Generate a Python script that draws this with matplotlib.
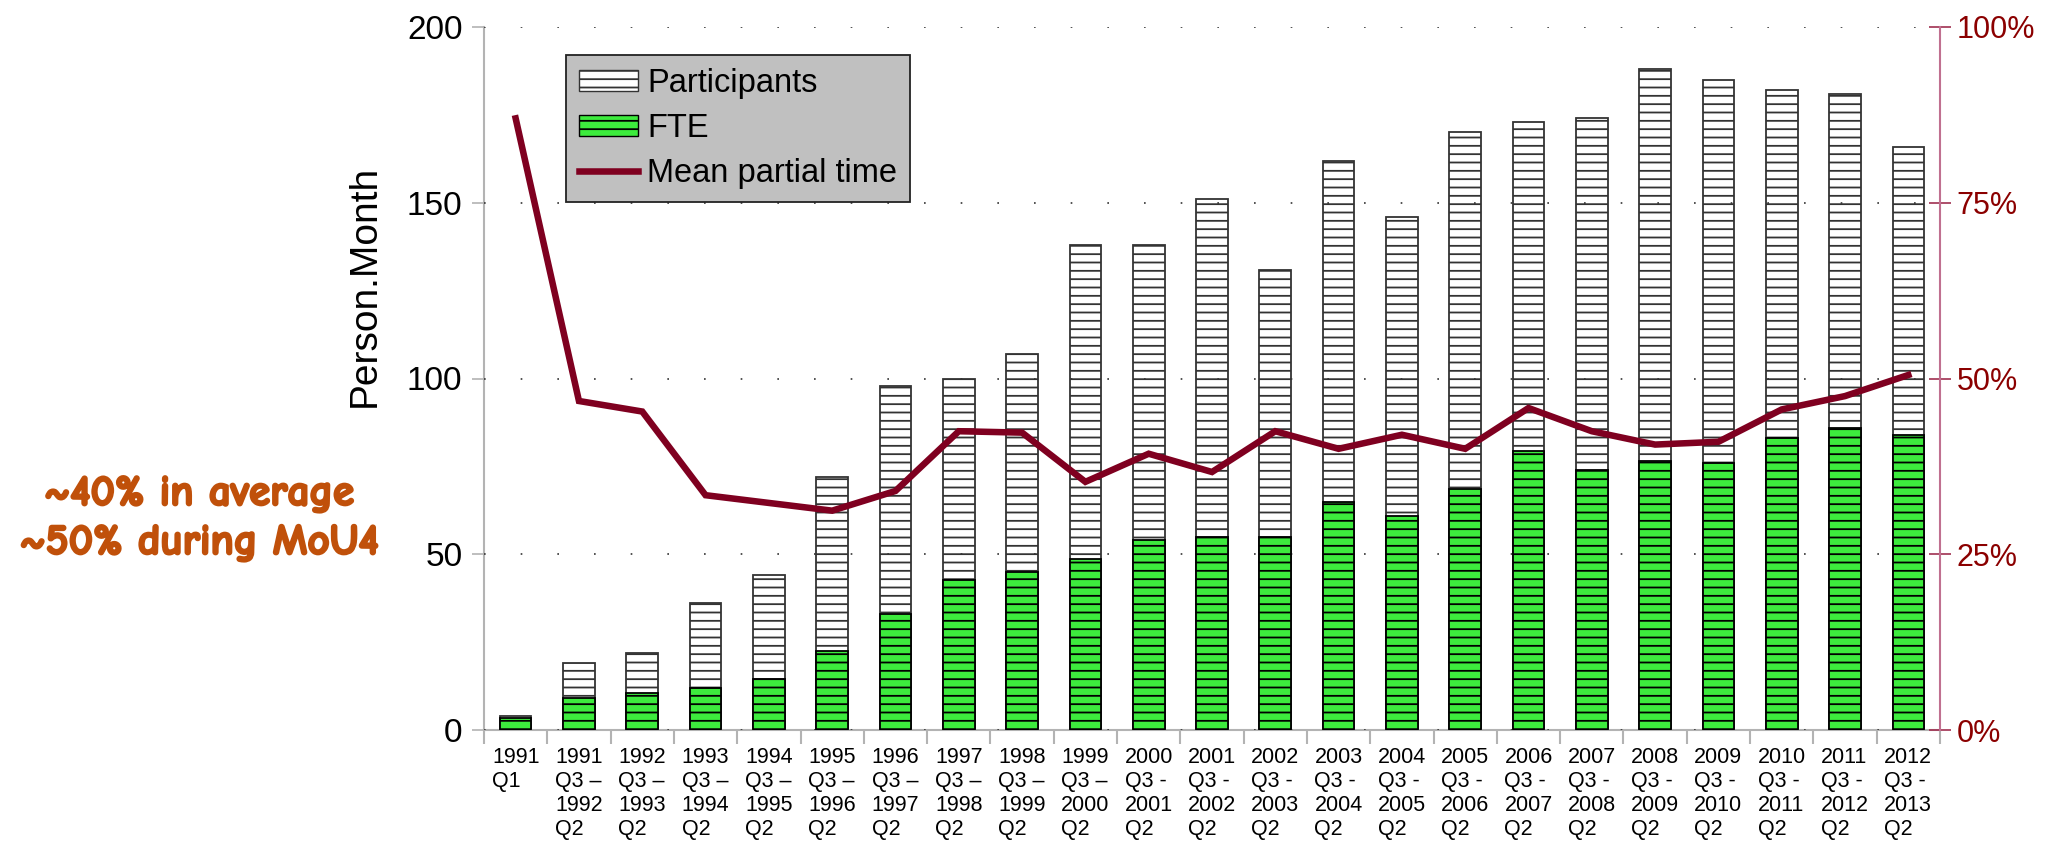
import matplotlib
matplotlib.use("Agg")
import matplotlib.pyplot as plt
from matplotlib.patches import Patch
from matplotlib.lines import Line2D
from matplotlib.ticker import FuncFormatter
import matplotlib.patheffects as pe

# ---- data ----
categories = [
    "1991\nQ1",
    "1991\nQ3 –\n1992\nQ2", "1992\nQ3 –\n1993\nQ2", "1993\nQ3 –\n1994\nQ2",
    "1994\nQ3 –\n1995\nQ2", "1995\nQ3 –\n1996\nQ2", "1996\nQ3 –\n1997\nQ2",
    "1997\nQ3 –\n1998\nQ2", "1998\nQ3 –\n1999\nQ2", "1999\nQ3 –\n2000\nQ2",
    "2000\nQ3 -\n2001\nQ2", "2001\nQ3 -\n2002\nQ2", "2002\nQ3 -\n2003\nQ2",
    "2003\nQ3 -\n2004\nQ2", "2004\nQ3 -\n2005\nQ2", "2005\nQ3 -\n2006\nQ2",
    "2006\nQ3 -\n2007\nQ2", "2007\nQ3 -\n2008\nQ2", "2008\nQ3 -\n2009\nQ2",
    "2009\nQ3 -\n2010\nQ2", "2010\nQ3 -\n2011\nQ2", "2011\nQ3 -\n2012\nQ2",
    "2012\nQ3 -\n2013\nQ2",
]
participants = [4, 19, 22, 36, 44, 72, 98, 100, 107, 138, 138, 151, 131,
                162, 146, 170, 173, 174, 188, 185, 182, 181, 166]
fte = [3.5, 9, 10.4, 12, 14.5, 22.5, 33, 42.7, 45, 48.6, 54, 55, 55,
       65, 61, 68.6, 79.4, 74, 76.4, 76, 83, 86, 84]
mean_partial = [0.87, 0.468, 0.453, 0.334, 0.323, 0.312, 0.340, 0.425, 0.423,
                0.353, 0.393, 0.367, 0.425, 0.400, 0.420, 0.400, 0.458, 0.425,
                0.406, 0.410, 0.456, 0.475, 0.505]
left_ticks = [0, 50, 100, 150, 200]
right_ticks = [0, 0.25, 0.5, 0.75, 1.0]

# ---- style ----
plt.rcParams['font.family'] = ['Liberation Sans', 'DejaVu Sans']
plt.rcParams['hatch.color'] = 'black'
plt.rcParams['hatch.linewidth'] = 1.3

GREEN = '#3deb3d'
MAROON = '#7f0020'
DARKRED = '#8b0000'
GREY = '#b3b3b3'
ORANGE = '#c0500a'

fig = plt.figure(figsize=(20.45, 8.44), dpi=100)
ax = fig.add_axes([484 / 2045, 1 - 730 / 844, (1940 - 484) / 2045, (730 - 27) / 844])

x = list(range(len(categories)))
ax.bar(x, participants, width=0.5, color='white', edgecolor='#333333',
       linewidth=1.3, hatch='--', zorder=2)
ax.bar(x, fte, width=0.5, color=GREEN, edgecolor='black',
       linewidth=1.3, hatch='--', zorder=3)

ax.set_xlim(-0.5, len(categories) - 0.5)
ax.set_ylim(0, 200)
ax.set_yticks(left_ticks)
ax.tick_params(axis='y', labelsize=24, color=GREY, length=8.5, width=1.2, pad=7,
               direction='out')
ax.set_xticks(x)
ax.set_xticklabels(categories, fontsize=15.5, linespacing=1.2,
                   ha='center', va='top', multialignment='left')
ax.tick_params(axis='x', length=0, pad=12)
ax.set_xticks([i - 0.5 for i in range(len(categories) + 1)], minor=True)
ax.tick_params(axis='x', which='minor', length=10, color=GREY, width=1.5,
               direction='out')

for s in ['top', 'right']:
    ax.spines[s].set_visible(False)
for s in ['left', 'bottom']:
    ax.spines[s].set_color(GREY)
    ax.spines[s].set_linewidth(1.5)

# sparse dotted grid
ax.yaxis.grid(True, color='#333333', linewidth=1.2, linestyle=(0, (1.0, 21.0)))
ax.set_axisbelow(False)

ax.set_ylabel('Person.Month', fontsize=28)
ax.yaxis.set_label_coords(-0.0817, 0.632)
ax.yaxis.label.set_verticalalignment('center')

# right axis
ax2 = ax.twinx()
ax2.plot(x, mean_partial, color=MAROON, linewidth=4.7, solid_joinstyle='miter',
         zorder=5)
ax2.set_ylim(0, 1)
ax2.set_yticks(right_ticks)
ax2.yaxis.set_major_formatter(FuncFormatter(lambda v, p: f"{v * 100:.0f}%"))
ax2.tick_params(axis='y', labelsize=22, labelcolor=DARKRED, color='#a03050',
                length=16, width=1.2, direction='inout', pad=4)
for s in ['top', 'left', 'bottom']:
    ax2.spines[s].set_visible(False)
ax2.spines['right'].set_color('#c07090')
ax2.spines['right'].set_linewidth(1.5)

handles = [
    Patch(facecolor='white', edgecolor='#333333', hatch='--', linewidth=1.0),
    Patch(facecolor=GREEN, edgecolor='black', hatch='--', linewidth=1.0),
    Line2D([], [], color=MAROON, linewidth=4.7),
]
leg = ax2.legend(handles, ['Participants', 'FTE', 'Mean partial time'],
                 loc='upper left', bbox_to_anchor=(0.0566, 0.96),
                 fontsize=23.5, frameon=True, fancybox=False, framealpha=1,
                 facecolor='#c0c0c0', edgecolor='#222222', handlelength=1.8,
                 handleheight=0.6, borderpad=0.4, labelspacing=0.42,
                 handletextpad=0.28, borderaxespad=0)
leg.get_frame().set_linewidth(1.3)

for txt, yy in [("~40% in average", 494), ("~50% during MoU4", 543)]:
    fig.text(199 / 2045, 1 - yy / 844, txt, color=ORANGE,
             fontsize=31, fontweight='bold', ha='center', va='center',
             family=['Comic Neue', 'DejaVu Sans'],
             path_effects=[pe.withStroke(linewidth=1.6, foreground=ORANGE)])

fig.savefig('out.png', dpi=100, facecolor='white')
